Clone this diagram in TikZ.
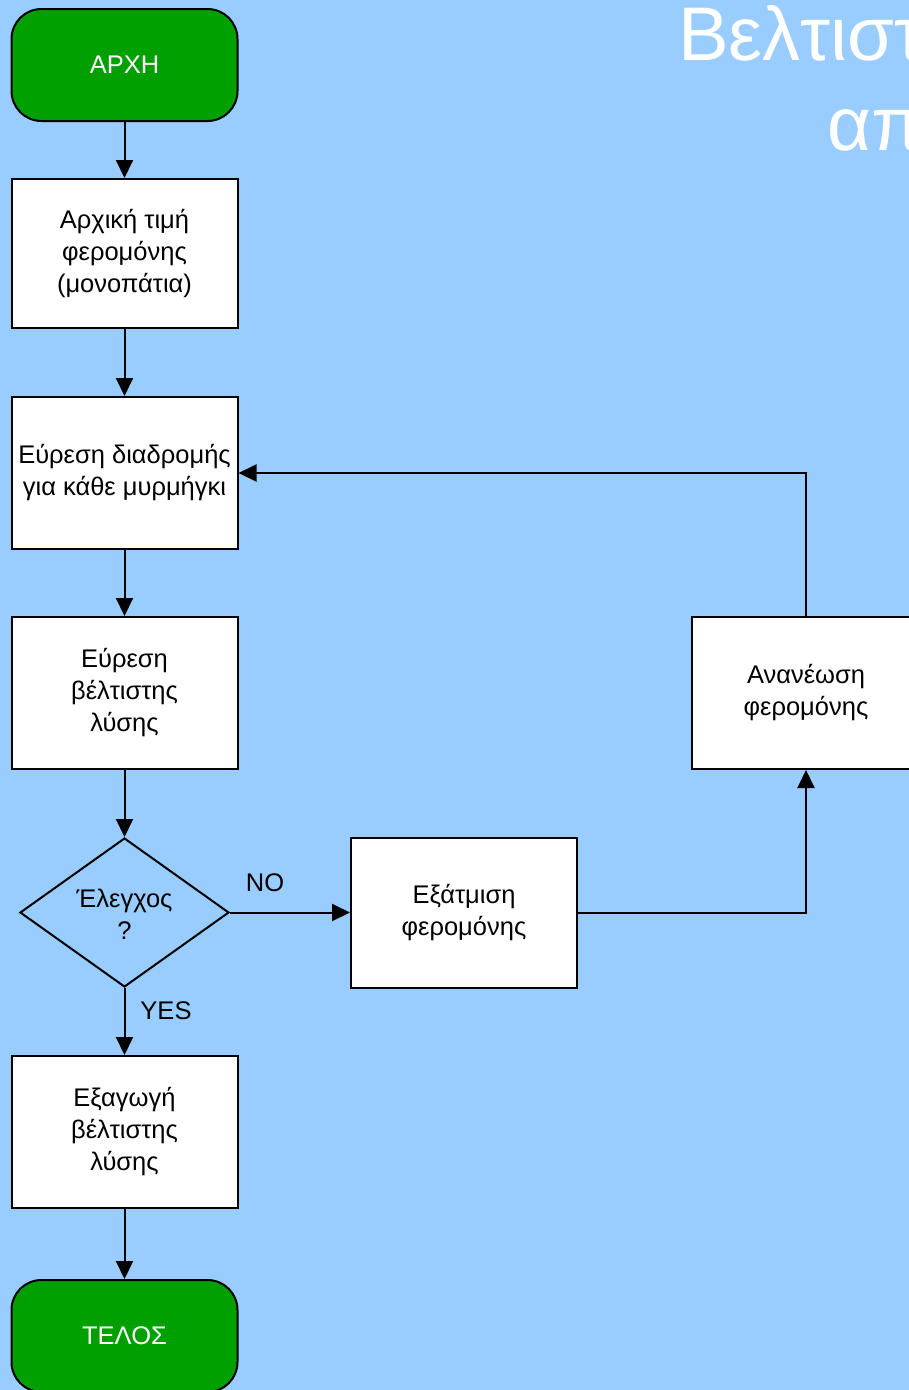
\documentclass[tikz,border=0pt]{standalone}
\usepackage{fontspec}
\setmainfont{Liberation Sans}
\usetikzlibrary{shapes.geometric,arrows.meta}
\definecolor{bg}{RGB}{153,204,255}
\definecolor{gr}{RGB}{0,160,0}
\begin{document}
\begin{tikzpicture}[x=1pt,y=-1pt,
  box/.style={draw=black, line width=2pt, fill=white, minimum width=226pt, minimum height=151pt, align=center, font=\fontsize{25.5}{32}\selectfont, inner sep=0pt},
  term/.style={box, fill=gr, text=white, rounded corners=30pt, minimum height=112pt},
  lbl/.style={align=center, font=\fontsize{25.5}{32}\selectfont, inner sep=0pt},
  arr/.style={line width=2pt, -{Triangle[length=18pt,width=17pt]}}]
\useasboundingbox (0,0) rectangle (909,1390);
\clip (0,0) rectangle (909,1390);
\fill[bg] (0,0) rectangle (909,1390);
% title
\node[anchor=base west, text=white, font=\fontsize{76}{90}\selectfont, inner sep=0pt] (t1) at (678,60) {Βελτιστ};
\node[anchor=base west, text=white, font=\fontsize{76}{90}\selectfont, inner sep=0pt] (t2) at (827,150) {απ};
% nodes
\node[term] (start) at (124.5,65) {ΑΡΧΗ};
\node[box, minimum height=149pt] (b1) at (124.5,253.5) {Αρχική τιμή\\φερομόνης\\(μονοπάτια)};
\node[box, minimum height=152pt] (b2) at (124.5,473) {Εύρεση διαδρομής\\για κάθε μυρμήγκι};
\node[box, minimum height=152pt] (b3) at (124.5,693) {Εύρεση\\βέλτιστης\\λύσης};
\node[diamond, draw=black, line width=2pt, minimum width=209pt, minimum height=149pt, inner sep=0pt] (dec) at (124.5,912.5) {};
\node[lbl] (dect) at (124.5,914) {Έλεγχος\\?};
\node[box, minimum height=150pt] (b4) at (464,912.5) {Εξάτμιση\\φερομόνης};
\node[box, minimum width=228pt, minimum height=152pt] (b5) at (806,693) {Ανανέωση\\φερομόνης};
\node[box, minimum height=152pt] (b6) at (124.5,1132) {Εξαγωγή\\βέλτιστης\\λύσης};
\node[term] (end) at (124.5,1336) {ΤΕΛΟΣ};
\node[lbl] (no) at (265,883) {NO};
\node[lbl] (yes) at (166,1011) {YES};
% connectors
\draw[arr] (start.south) -- (b1.north);
\draw[arr] (b1.south) -- (b2.north);
\draw[arr] (b2.south) -- (b3.north);
\draw[arr] (b3.south) -- (dec.north);
\draw[arr] (dec.south) -- (b6.north);
\draw[arr] (b6.south) -- (end.north);
\draw[arr] (dec.east) -- (b4.west);
\draw[arr] (b4.east) -| (b5.south);
\draw[arr] (b5.north) |- (b2.east);
\end{tikzpicture}
\end{document}
